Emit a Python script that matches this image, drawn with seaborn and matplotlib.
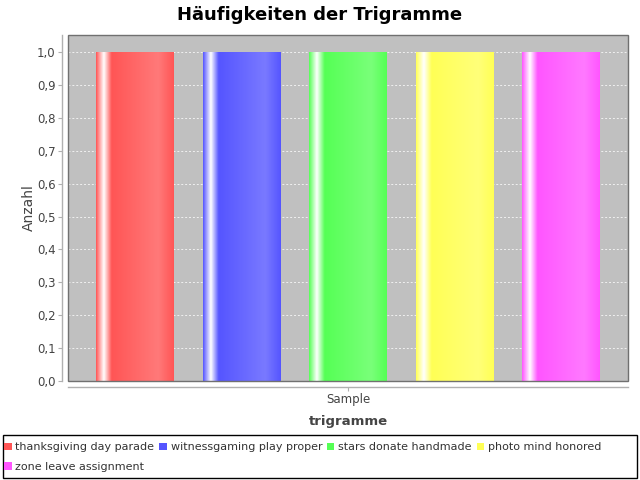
import numpy as np
import pandas as pd
import matplotlib
matplotlib.use("Agg")
import matplotlib.pyplot as plt
import seaborn as sns
from matplotlib.patches import Rectangle, Patch
from matplotlib.ticker import FuncFormatter, MultipleLocator
from matplotlib.colors import to_rgb

# ---- data ----
title = "Häufigkeiten der Trigramme"
x_label = "trigramme"
y_label = "Anzahl"
category = ["Sample"]
trigrams = ["thanksgiving day parade", "witnessgaming play proper",
            "stars donate handmade", "photo mind honored", "zone leave assignment"]
counts = [1.0, 1.0, 1.0, 1.0, 1.0]
colors = ["#ff5555", "#5555ff", "#55ff55", "#ffff55", "#ff55ff"]

df = pd.DataFrame({"category": category * len(trigrams),
                   "trigram": trigrams, "count": counts})

sns.set_style("white")
plt.rcParams["font.family"] = ["DejaVu Sans"]

W, H = 640, 480
fig = plt.figure(figsize=(6.4, 4.8), dpi=100)
ax = fig.add_axes([68 / W, 1 - 381 / H, 560 / W, 346 / H])
ax.set_facecolor("#c0c0c0")

sns.barplot(data=df, x="category", y="count", hue="trigram", hue_order=trigrams,
            palette=colors, width=0.951, gap=0.268, saturation=1,
            linewidth=0, legend=False, ax=ax)


def brighter(c):
    return np.array([min(v * 255 / 0.7, 255) / 255 for v in c])


def gradient_row(c0, n=300):
    c0 = np.array(c0)
    c1 = brighter(c0)
    wh = np.ones(3)
    t = np.linspace(0, 1, n)
    rows = []
    for tt in t:
        if tt < 0.1:
            f = tt / 0.1
            col = c0 + (wh - c0) * f
        elif tt < 0.2:
            f = (tt - 0.1) / 0.1
            col = wh + (c0 - wh) * f
        elif tt < 0.8:
            f = (tt - 0.2) / 0.6
            col = c0 + (c1 - c0) * f
        else:
            f = (tt - 0.8) / 0.2
            col = c1 + (c0 - c1) * f
        rows.append(col)
    return np.array(rows)[None, :, :]


bars = [p for p in ax.patches if isinstance(p, Rectangle)]
for p in bars:
    x0 = p.get_x()
    w = p.get_width()
    h = p.get_height()
    img = gradient_row(to_rgb(p.get_facecolor()))
    im = ax.imshow(img, extent=(x0, x0 + w, 0, h), aspect="auto",
                   interpolation="bilinear", zorder=p.get_zorder() + 0.1)
    im.set_clip_path(p)

ax.set_xlim(-0.5, 0.5)
ax.set_ylim(0, 1.052)
ax.set_aspect("auto")

ax.yaxis.set_major_locator(MultipleLocator(0.1))
ax.yaxis.set_major_formatter(FuncFormatter(lambda v, _: f"{v:.1f}".replace(".", ",")))
ax.yaxis.grid(True, color="#f0f0f0", linestyle=(0, (2, 2)), linewidth=0.7)
ax.set_axisbelow(True)

for s in ["top", "right"]:
    ax.spines[s].set_visible(False)
for s in ["left", "bottom"]:
    ax.spines[s].set_position(("outward", 4))
    ax.spines[s].set_color("#b0b0b0")
    ax.spines[s].set_linewidth(1)
ax.add_patch(Rectangle((0, 0), 1, 1, transform=ax.transAxes, fill=False,
                       edgecolor="#707070", linewidth=1, clip_on=False, zorder=10))

ax.tick_params(axis="both", length=3, width=0.8, color="#b0b0b0",
               labelsize=8.5, labelcolor="#444444", pad=2, left=True, bottom=True)

ax.set_ylabel(y_label, fontsize=10, color="#444444", labelpad=1)
ax.set_xlabel(x_label, fontsize=9.5, fontweight="bold", color="#444444", labelpad=6)

fig.text(0.5, 1 - 15 / H, title, ha="center", va="center",
         fontsize=13, fontweight="bold", color="black")

# legend
handles = [Patch(facecolor=c, edgecolor="none") for c in colors]
order = [0, 4, 1, 2, 3]
leg = fig.legend([handles[i] for i in order], [trigrams[i] for i in order],
                 ncol=4, loc="upper left", bbox_to_anchor=(1 / W, 1 - 439 / H),
                 frameon=False, fontsize=8, handlelength=0.65, handleheight=0.65,
                 handletextpad=0.35, columnspacing=0.45, labelspacing=0.85,
                 borderaxespad=0, borderpad=0.3)
for t in leg.get_texts():
    t.set_color("#333333")
fig.patches.append(Rectangle((3 / W, 2 / H), 634 / W, 43 / H,
                             transform=fig.transFigure, fill=False,
                             edgecolor="black", linewidth=1))

fig.savefig("out.png", dpi=100)
